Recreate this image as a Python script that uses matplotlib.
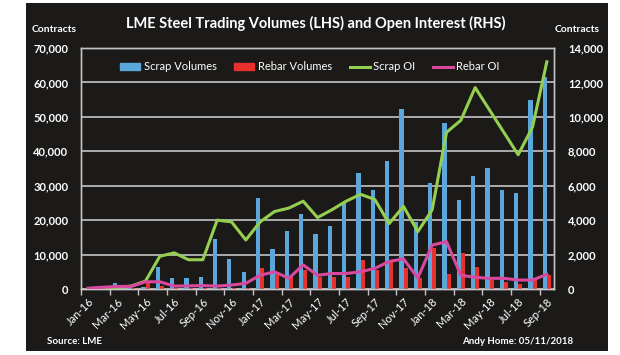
import numpy as np
import matplotlib.pyplot as plt
from matplotlib.patches import Rectangle, Patch
from matplotlib.lines import Line2D

# monthly data, Jan-16 .. Sep-18
months = ['Jan-16', 'Feb-16', 'Mar-16', 'Apr-16', 'May-16', 'Jun-16', 'Jul-16', 'Aug-16',
          'Sep-16', 'Oct-16', 'Nov-16', 'Dec-16', 'Jan-17', 'Feb-17', 'Mar-17', 'Apr-17',
          'May-17', 'Jun-17', 'Jul-17', 'Aug-17', 'Sep-17', 'Oct-17', 'Nov-17', 'Dec-17',
          'Jan-18', 'Feb-18', 'Mar-18', 'Apr-18', 'May-18', 'Jun-18', 'Jul-18', 'Aug-18',
          'Sep-18']

scrap_vol = [0, 0, 1650, 200, 500, 6500, 3100, 3100, 3600, 14600, 8700, 5000,
             26300, 11700, 16800, 21700, 15900, 18300, 25100, 33800, 28900, 37300,
             52300, 19500, 30700, 48300, 25800, 32800, 35200, 28900, 27800, 54900, 61500]

rebar_vol = [0, 0, 100, 200, 2100, 800, 300, 200, 300, 300, 300, 400,
             6000, 5000, 3600, 5500, 3600, 3600, 3400, 8400, 5500, 8400,
             6000, 3100, 11800, 4500, 10400, 6500, 2600, 2100, 1450, 3100, 4000]

scrap_oi = [0, 50, 100, 170, 460, 1900, 2100, 1700, 1700, 4000, 3900, 2850,
            3900, 4500, 4700, 5100, 4150, 4600, 5100, 5500, 5200, 3800, 4800, 3330,
            4600, 9100, 9800, 11700, 10400, 9100, 7800, 9400, 13200]

rebar_oi = [50, 100, 150, 150, 420, 420, 170, 180, 200, 170, 230, 330,
            800, 1000, 620, 1400, 800, 900, 900, 1000, 1200, 1600, 1750, 640,
            2550, 2750, 800, 680, 620, 620, 520, 520, 850]

tick_labels = months[::2]

blue = '#5ba7dc'
red = '#e8302c'
green = '#94cf4f'
pink = '#d9489e'
bg = '#1b1a18'
grid_c = '#c4c4c4'

plt.rcParams['font.family'] = ['Lato', 'DejaVu Sans']

fig = plt.figure(figsize=(6.2, 3.55), dpi=100, facecolor='white')
fig.patches.append(Rectangle((26 / 620, 4 / 355), 582 / 620, 348 / 355,
                             transform=fig.transFigure, facecolor=bg,
                             edgecolor='none', zorder=-5))

ax = fig.add_axes([81 / 620, 66 / 355, 473 / 620, 241 / 355])
ax.set_facecolor(bg)
ax2 = ax.twinx()

x = np.arange(len(months)) + 0.5
w = 0.28
ax.bar(x - w / 2, scrap_vol, width=w, color=blue, zorder=3)
ax.bar(x + w / 2, rebar_vol, width=w, color=red, zorder=3)

ax2.plot(x, scrap_oi, color=green, lw=2.2, zorder=4)
ax2.plot(x, rebar_oi, color=pink, lw=2.2, zorder=4)

ax.set_xlim(0, len(months))
ax.set_ylim(0, 70000)
ax2.set_ylim(0, 14000)
ax.set_yticks(range(0, 70001, 10000))
ax.set_yticklabels([f'{v:,}' for v in range(0, 70001, 10000)])
ax2.set_yticks(range(0, 14001, 2000))
ax2.set_yticklabels([f'{v:,}' for v in range(0, 14001, 2000)])
ax.grid(axis='y', color=grid_c, lw=1.2, zorder=1)

# labels at month centres, tick marks on boundaries
ax.set_xticks(x[::2])
ax.set_xticklabels(tick_labels, rotation=45, ha='right', rotation_mode='anchor',
                   color='white', fontsize=8)
ax.set_xticks(np.arange(0, len(months) + 1, 2), minor=True)
ax.tick_params(axis='x', which='major', length=0, pad=5)
ax.tick_params(axis='x', which='minor', length=4, color=grid_c, width=1)

ax.tick_params(axis='y', length=0, pad=9, labelcolor='white', labelsize=8)
ax2.tick_params(axis='y', length=0, pad=10, labelcolor='white', labelsize=8)
for lab in ax.get_yticklabels() + ax2.get_yticklabels():
    lab.set_fontweight('bold')

for a in (ax, ax2):
    for s in a.spines.values():
        s.set_color(grid_c)
        s.set_linewidth(1)

fig.text(316 / 620, 1 - 23 / 355, 'LME Steel Trading Volumes (LHS) and Open Interest (RHS)',
         ha='center', va='center', color='white', fontsize=10.5, fontweight='bold')
fig.text(54 / 620, 1 - 29 / 355, 'Contracts', ha='center', va='center',
         color='white', fontsize=7.5, fontweight='bold')
fig.text(577 / 620, 1 - 29 / 355, 'Contracts', ha='center', va='center',
         color='white', fontsize=7.5, fontweight='bold')
fig.text(47 / 620, 1 - 342 / 355, 'Source: LME', ha='left', va='center',
         color='white', fontsize=7, fontweight='bold')
fig.text(462 / 620, 1 - 342 / 355, 'Andy Home: 05/11/2018', ha='left', va='center',
         color='white', fontsize=7, fontweight='bold')

handles = [Patch(color=blue), Patch(color=red),
           Line2D([], [], color=green, lw=2.2), Line2D([], [], color=pink, lw=2.2)]
fig.legend(handles, ['Scrap Volumes', 'Rebar Volumes', 'Scrap OI', 'Rebar OI'],
           ncol=4, loc='center', bbox_to_anchor=(310 / 620, 1 - 67 / 355),
           frameon=False, labelcolor='white', fontsize=8, handlelength=1.8,
           handleheight=0.6, handletextpad=0.3, columnspacing=1.6)

fig.savefig('out.png', dpi=100, facecolor=fig.get_facecolor())
